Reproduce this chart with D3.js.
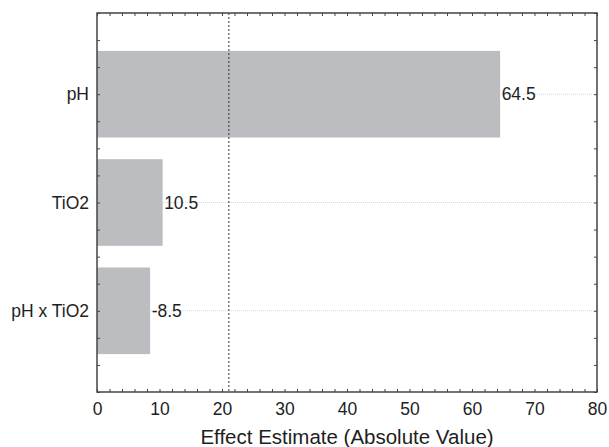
<!DOCTYPE html>
<html>
<head>
<meta charset="utf-8">
<script src="https://cdn.jsdelivr.net/npm/d3@7"></script>
<style>
  body { margin: 0; background: #fff; }
  text { font-family: "Liberation Sans", Arial, sans-serif; fill: #1e1e1e; }
</style>
</head>
<body>
<div id="plot"></div>
<script>
var factors = ["pH", "TiO2", "pH x TiO2"];
var effects = [64.5, 10.5, -8.5];
var threshold = 21.1;
var x_ticks = [0, 10, 20, 30, 40, 50, 60, 70, 80];
var x_title = "Effect Estimate (Absolute Value)";

var W = 609, H = 447;
var m_left = 97, m_right = 597, m_top = 13, m_bottom = 392;
var font = "Liberation Sans, Arial, sans-serif";
var fs = 17.5;

var svg = d3.select("div#plot")
    .append("svg")
        .attr("width", W)
        .attr("height", H);

var x_scale = d3.scaleLinear().domain([0, 80]).range([m_left, m_right]);
// categories sit at 1, 2, 3 on a linear scale so minor ticks fall every quarter
var y_scale = d3.scaleLinear().domain([0.25, 3.75]).range([m_top, m_bottom]);

// grid lines at each factor
svg.append("g")
    .selectAll("line")
    .data(factors)
    .join("line")
        .attr("x1", m_left)
        .attr("x2", m_right)
        .attr("y1", function(d, i) { return y_scale(i + 1); })
        .attr("y2", function(d, i) { return y_scale(i + 1); })
        .attr("stroke", "#d6d6d6")
        .attr("stroke-width", 1)
        .attr("stroke-dasharray", "1,1");

// bars
svg.append("g")
    .selectAll("rect")
    .data(effects)
    .join("rect")
        .attr("x", x_scale(0))
        .attr("y", function(d, i) { return y_scale(i + 1 - 0.4); })
        .attr("width", function(d) { return x_scale(Math.abs(d)) - x_scale(0); })
        .attr("height", y_scale(0.8) - y_scale(0))
        .attr("fill", "#bcbdc0");

// value labels
svg.append("g")
    .selectAll("text")
    .data(effects)
    .join("text")
        .attr("x", function(d) { return x_scale(Math.abs(d)) + 1.5; })
        .attr("y", function(d, i) { return y_scale(i + 1); })
        .attr("dy", "0.35em")
        .attr("font-size", fs)
        .text(function(d) { return d.toFixed(1); });

// significance line
svg.append("line")
    .attr("x1", x_scale(threshold))
    .attr("x2", x_scale(threshold))
    .attr("y1", m_top)
    .attr("y2", m_bottom)
    .attr("stroke", "#333")
    .attr("stroke-width", 1)
    .attr("stroke-dasharray", "2,2");

// axes
var minor_x = d3.range(0, 81, 2);
var minor_y = d3.range(0.25, 3.76, 0.25);

function style_ticks(g) {
    g.select(".domain").remove();
    g.selectAll("line").attr("stroke", "#444");
}

svg.append("g")
    .attr("transform", "translate(0," + m_bottom + ")")
    .call(d3.axisBottom(x_scale).tickValues(x_ticks).tickSize(0).tickPadding(11))
    .call(function(g) {
        g.select(".domain").remove();
        g.selectAll("text").attr("font-size", fs).attr("font-family", font).attr("fill", "#1e1e1e");
    });

svg.append("g")
    .attr("transform", "translate(0," + m_bottom + ")")
    .call(d3.axisBottom(x_scale).tickValues(minor_x).tickSize(-3).tickFormat(""))
    .call(style_ticks);

svg.append("g")
    .attr("transform", "translate(0," + m_top + ")")
    .call(d3.axisTop(x_scale).tickValues(minor_x).tickSize(-3).tickFormat(""))
    .call(style_ticks);

svg.append("g")
    .attr("transform", "translate(" + m_left + ",0)")
    .call(d3.axisLeft(y_scale).tickValues(minor_y).tickSize(-3).tickFormat(""))
    .call(style_ticks);

svg.append("g")
    .attr("transform", "translate(" + m_right + ",0)")
    .call(d3.axisRight(y_scale).tickValues(minor_y).tickSize(-3).tickFormat(""))
    .call(style_ticks);

svg.append("g")
    .attr("transform", "translate(" + m_left + ",0)")
    .call(d3.axisLeft(y_scale).tickValues([1, 2, 3]).tickSize(0).tickPadding(8)
        .tickFormat(function(d) { return factors[d - 1]; }))
    .call(function(g) {
        g.select(".domain").remove();
        g.selectAll("text").attr("font-size", fs).attr("font-family", font).attr("fill", "#1e1e1e");
    });

// frame
svg.append("rect")
    .attr("x", m_left)
    .attr("y", m_top)
    .attr("width", m_right - m_left)
    .attr("height", m_bottom - m_top)
    .attr("fill", "none")
    .attr("stroke", "#444")
    .attr("stroke-width", 1.5);

svg.append("text")
    .attr("x", (m_left + m_right) / 2)
    .attr("y", 444)
    .attr("text-anchor", "middle")
    .attr("font-size", 20.5)
    .text(x_title);
</script>
</body>
</html>
